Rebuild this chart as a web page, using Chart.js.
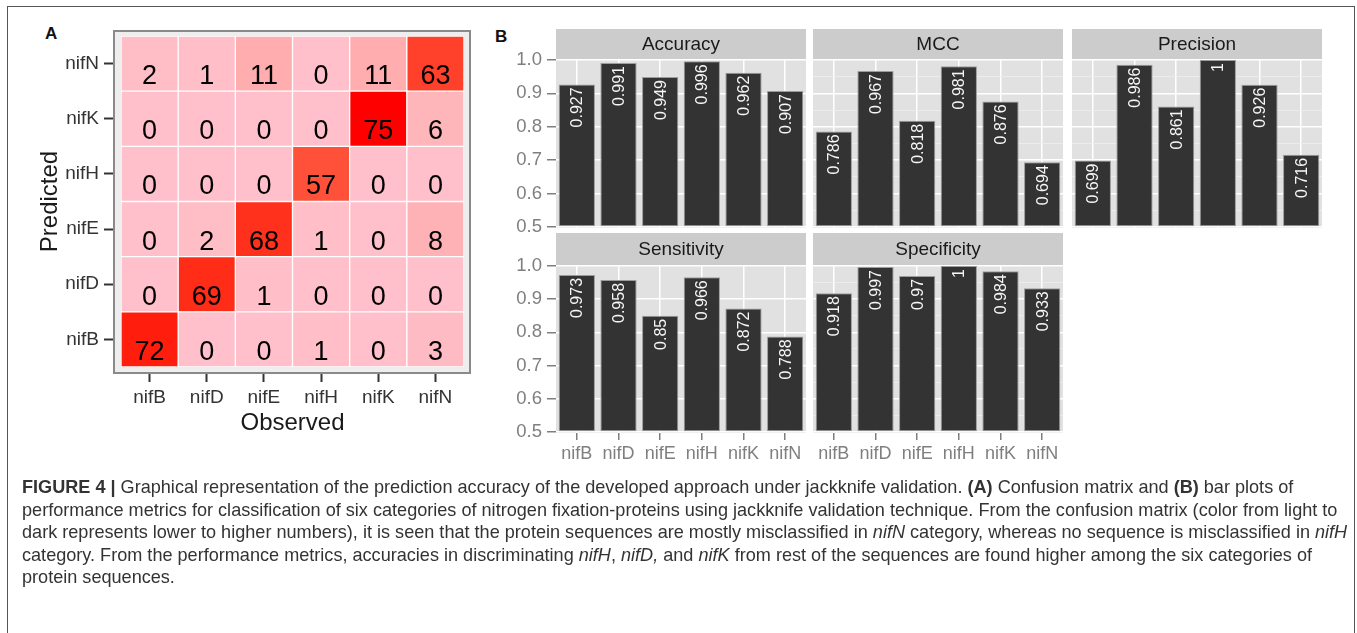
<!DOCTYPE html>
<html>
<head>
<meta charset="utf-8">
<script src="https://cdn.jsdelivr.net/npm/chart.js@4.4.1/dist/chart.umd.min.js"></script>
<style>
  html, body { margin: 0; padding: 0; background: #fff; }
  body { width: 1357px; height: 633px; position: relative; overflow: hidden; font-family: 'Liberation Sans', Arial, sans-serif; }
  #frame { position: absolute; left: 7px; top: 6px; width: 1346px; height: 660px; border: 1.5px solid #555; border-bottom: none; }
  canvas { position: absolute; }
  .tag { position: absolute; font-weight: bold; font-size: 17px; color: #111; }
  #caption { position: absolute; left: 22px; top: 476px; font-size: 18.1px; line-height: 22.5px; color: #333; white-space: nowrap; }
</style>
</head>
<body>
<div id="frame"></div>
<div class="tag" style="left:45px;top:24px;">A</div>
<div class="tag" style="left:495px;top:27px;">B</div>

<canvas id="heat" width="480" height="450" style="left:0;top:0;width:480px;height:450px;"></canvas>
<canvas id="f0"></canvas>
<canvas id="f1"></canvas>
<canvas id="f2"></canvas>
<canvas id="f3"></canvas>
<canvas id="f4"></canvas>

<div id="caption">
  <div><b>FIGURE 4 |</b> Graphical representation of the prediction accuracy of the developed approach under jackknife validation. <b>(A)</b> Confusion matrix and <b>(B)</b> bar plots of</div>
  <div>performance metrics for classification of six categories of nitrogen fixation-proteins using jackknife validation technique. From the confusion matrix (color from light to</div>
  <div>dark represents lower to higher numbers), it is seen that the protein sequences are mostly misclassified in <i>nifN</i> category, whereas no sequence is misclassified in <i>nifH</i></div>
  <div>category. From the performance metrics, accuracies in discriminating <i>nifH</i>, <i>nifD,</i> and <i>nifK</i> from rest of the sequences are found higher among the six categories of</div>
  <div>protein sequences.</div>
</div>

<script>
'use strict';

// ***** DATA *****

let categories = ['nifB', 'nifD', 'nifE', 'nifH', 'nifK', 'nifN'];

// confusion matrix, one array per predicted class, columns = observed
let predNifB = [72, 0, 0, 1, 0, 3];
let predNifD = [0, 69, 1, 0, 0, 0];
let predNifE = [0, 2, 68, 1, 0, 8];
let predNifH = [0, 0, 0, 57, 0, 0];
let predNifK = [0, 0, 0, 0, 75, 6];
let predNifN = [2, 1, 11, 0, 11, 63];
let countRows = [predNifB, predNifD, predNifE, predNifH, predNifK, predNifN];

let accuracy = [0.927, 0.991, 0.949, 0.996, 0.962, 0.907];
let mcc = [0.786, 0.967, 0.818, 0.981, 0.876, 0.694];
let precision = [0.699, 0.986, 0.861, 1, 0.926, 0.716];
let sensitivity = [0.973, 0.958, 0.85, 0.966, 0.872, 0.788];
let specificity = [0.918, 0.997, 0.97, 1, 0.984, 0.933];

let facetTitles = ['Accuracy', 'MCC', 'Precision', 'Sensitivity', 'Specificity'];
let facetValues = [accuracy, mcc, precision, sensitivity, specificity];

let majorTicks = [0.5, 0.6, 0.7, 0.8, 0.9, 1.0];
let minorTicks = [0.55, 0.65, 0.75, 0.85, 0.95];

Chart.defaults.font.family = "'Liberation Sans', Arial, sans-serif";
Chart.defaults.animation = false;

// ***** COLOUR HELPERS (pink -> red in Lab, like ggplot) *****

function toLab(hex) {
    let c = [1, 3, 5].map(i => parseInt(hex.substr(i, 2), 16) / 255)
        .map(v => v <= 0.04045 ? v / 12.92 : Math.pow((v + 0.055) / 1.055, 2.4));
    let x = (c[0] * 0.4124 + c[1] * 0.3576 + c[2] * 0.1805) / 0.95047;
    let y = (c[0] * 0.2126 + c[1] * 0.7152 + c[2] * 0.0722);
    let z = (c[0] * 0.0193 + c[1] * 0.1192 + c[2] * 0.9505) / 1.08883;
    let f = t => t > 0.008856 ? Math.cbrt(t) : 7.787 * t + 16 / 116;
    return [116 * f(y) - 16, 500 * (f(x) - f(y)), 200 * (f(y) - f(z))];
}

function fromLab(lab) {
    let fy = (lab[0] + 16) / 116, fx = fy + lab[1] / 500, fz = fy - lab[2] / 200;
    let g = t => t * t * t > 0.008856 ? t * t * t : (t - 16 / 116) / 7.787;
    let x = g(fx) * 0.95047, y = g(fy), z = g(fz) * 1.08883;
    let rgb = [
        x * 3.2406 - y * 1.5372 - z * 0.4986,
        -x * 0.9689 + y * 1.8758 + z * 0.0415,
        x * 0.0557 - y * 0.2040 + z * 1.0570
    ].map(v => v <= 0.0031308 ? 12.92 * v : 1.055 * Math.pow(v, 1 / 2.4) - 0.055)
     .map(v => Math.round(Math.min(1, Math.max(0, v)) * 255));
    return `rgb(${rgb[0]},${rgb[1]},${rgb[2]})`;
}

let lowLab = toLab('#FFC0CB');
let highLab = toLab('#FF0000');
let maxCount = Math.max(...countRows.flat());

function cellColor(n) {
    let t = n / maxCount;
    return fromLab(lowLab.map((v, i) => v + (highLab[i] - v) * t));
}

// ***** PANEL A: CONFUSION MATRIX *****

let heatPlugin = {
    id: 'heatFrame',
    beforeDatasetsDraw(chart) {
        let a = chart.chartArea;
        let c = chart.ctx;
        c.save();
        c.fillStyle = '#EEEEEE';
        c.beginPath();
        c.rect(a.left - 7, a.top - 5, a.width + 13, a.height + 11);
        c.rect(a.left, a.top, a.width, a.height);
        c.fill('evenodd');
        c.strokeStyle = '#8a8a8a';
        c.lineWidth = 2;
        c.strokeRect(a.left - 7, a.top - 5, a.width + 13, a.height + 11);
        c.restore();
    },
    afterDatasetsDraw(chart) {
        let c = chart.ctx;
        c.save();
        c.fillStyle = '#000';
        c.font = "27px 'Liberation Sans', Arial, sans-serif";
        c.textAlign = 'center';
        c.textBaseline = 'middle';
        chart.data.datasets.forEach((ds, i) => {
            chart.getDatasetMeta(i).data.forEach((bar, j) => {
                c.fillText(String(ds.counts[j]), bar.x, (bar.y + bar.base) / 2 + 13);
            });
        });
        c.restore();
    }
};

new Chart(document.getElementById('heat'), {
    type: 'bar',
    data: {
        labels: categories,
        datasets: countRows.map((row, i) => ({
            label: categories[i],
            data: row.map(() => 1),
            counts: row,
            backgroundColor: row.map(cellColor),
            borderColor: '#ffffff',
            borderWidth: 1,
            borderSkipped: false,
            barPercentage: 1,
            categoryPercentage: 1
        }))
    },
    options: {
        responsive: false,
        events: [],
        layout: { padding: { top: 36, right: 16, left: 0, bottom: 0 } },
        plugins: { legend: { display: false }, tooltip: { enabled: false } },
        scales: {
            x: {
                stacked: true,
                offset: true,
                border: { display: false },
                grid: { drawOnChartArea: false, offset: false, tickLength: 15, tickColor: '#333', tickWidth: 2 },
                ticks: { color: '#333', font: { size: 19 }, padding: 4, autoSkip: false, maxRotation: 0 },
                title: { display: true, text: 'Observed', color: '#1a1a1a', font: { size: 24 }, padding: { top: 0, bottom: 12 } },
                afterFit: (s) => { s.height = 83; }
            },
            y: {
                stacked: true,
                min: 0,
                max: 6,
                border: { display: false },
                afterBuildTicks: (s) => { s.ticks = categories.map((n, i) => ({ value: i + 0.5 })); },
                grid: { drawOnChartArea: false, tickLength: 17, tickColor: '#333', tickWidth: 2 },
                ticks: { color: '#333', font: { size: 19 }, padding: 5, callback: (v, i) => categories[i] },
                title: { display: true, text: 'Predicted', color: '#1a1a1a', font: { size: 24 }, padding: { top: 36, bottom: 0 } },
                afterFit: (s) => { s.width = 121; }
            }
        }
    },
    plugins: [heatPlugin]
});

// ***** PANEL B: METRIC FACETS *****

let facetPlugin = {
    id: 'facetDecor',
    beforeDraw(chart, args, opts) {
        let a = chart.chartArea;
        let c = chart.ctx;
        c.save();
        c.fillStyle = '#CCCCCC';
        c.fillRect(a.left, a.top - opts.stripH, a.width, opts.stripH);
        c.fillStyle = '#1a1a1a';
        c.font = "19px 'Liberation Sans', Arial, sans-serif";
        c.textAlign = 'center';
        c.textBaseline = 'middle';
        c.fillText(opts.title, (a.left + a.right) / 2, a.top - opts.stripH / 2 + 1);
        c.fillStyle = '#E1E1E1';
        c.fillRect(a.left, a.top, a.width, a.height);
        c.restore();
    },
    afterDatasetsDraw(chart) {
        let c = chart.ctx;
        let vals = chart.data.datasets[0].data;
        c.save();
        c.fillStyle = '#f6f6f6';
        c.font = "16px 'Liberation Sans', Arial, sans-serif";
        c.textAlign = 'right';
        c.textBaseline = 'middle';
        chart.getDatasetMeta(0).data.forEach((bar, j) => {
            c.save();
            c.translate(bar.x, bar.y + 3);
            c.rotate(-Math.PI / 2);
            c.fillText(String(vals[j]), 0, 1);
            c.restore();
        });
        c.restore();
    }
};

let colLefts = [556, 813, 1072];
let rowTops = [29, 233];
let stripHeights = [30, 32];
let panelHeights = [169, 168];
let panelWidth = 250;
let yAxisW = 60;
let xAxisH = 45;

function isMinor(v) {
    return Math.round(v * 100) % 10 !== 0;
}

function renderFacet(k) {
    let col = k % 3;
    let row = Math.floor(k / 3);
    let leftCol = col === 0;
    let bottomRow = row === 1;
    let w = yAxisW + panelWidth + 2;
    let h = stripHeights[row] + panelHeights[row] + xAxisH;
    let cv = document.getElementById('f' + k);
    cv.width = w;
    cv.height = h;
    cv.style.width = w + 'px';
    cv.style.height = h + 'px';
    cv.style.left = (colLefts[col] - yAxisW) + 'px';
    cv.style.top = rowTops[row] + 'px';

    new Chart(cv, {
        type: 'bar',
        data: {
            labels: categories,
            datasets: [{
                data: facetValues[k],
                base: 0.5,
                backgroundColor: '#333333',
                borderColor: '#9c9c9c',
                borderWidth: 1,
                borderSkipped: false,
                barPercentage: 0.87,
                categoryPercentage: 1
            }]
        },
        options: {
            responsive: false,
            events: [],
            layout: { padding: { top: stripHeights[row], right: 2, left: 0, bottom: 0 } },
            plugins: {
                legend: { display: false },
                tooltip: { enabled: false },
                facetDecor: { title: facetTitles[k], stripH: stripHeights[row] }
            },
            scales: {
                x: {
                    offset: true,
                    border: { display: false },
                    grid: {
                        offset: false,
                        color: '#ffffff',
                        lineWidth: 1.5,
                        drawTicks: bottomRow,
                        tickLength: 7,
                        tickColor: '#7f7f7f',
                        tickWidth: 1.5
                    },
                    ticks: { display: bottomRow, color: '#7f7f7f', font: { size: 18 }, padding: 3, autoSkip: false, maxRotation: 0 },
                    afterFit: (s) => { s.height = xAxisH; }
                },
                y: {
                    min: 0.497,
                    max: 1.003,
                    border: { display: false },
                    afterBuildTicks: (s) => {
                        s.ticks = majorTicks.concat(minorTicks).sort((p, q) => p - q).map(v => ({ value: v }));
                    },
                    grid: {
                        color: (ctx) => isMinor(ctx.tick.value) ? '#EFEFEF' : '#ffffff',
                        lineWidth: (ctx) => isMinor(ctx.tick.value) ? 0.8 : 1.5,
                        drawTicks: leftCol,
                        tickLength: 9,
                        tickColor: (ctx) => isMinor(ctx.tick.value) ? 'rgba(0,0,0,0)' : '#7f7f7f',
                        tickWidth: 1.5
                    },
                    ticks: {
                        display: leftCol,
                        color: '#7f7f7f',
                        font: { size: 18.5 },
                        padding: 5,
                        callback: (v) => isMinor(v) ? '' : v.toFixed(1)
                    },
                    afterFit: (s) => { s.width = yAxisW; }
                }
            }
        },
        plugins: [facetPlugin]
    });
}

for (let k = 0; k < facetTitles.length; k++) {
    renderFacet(k);
}
</script>
</body>
</html>
